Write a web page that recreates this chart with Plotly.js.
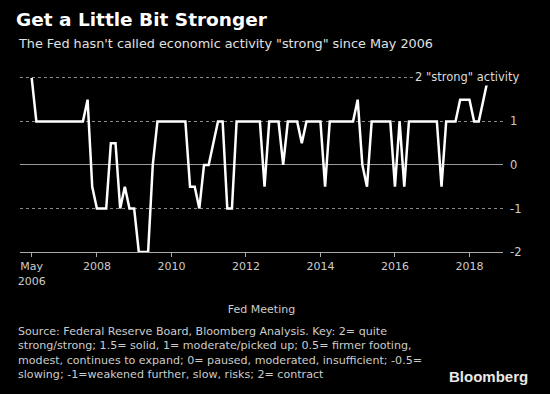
<!DOCTYPE html>
<html>
<head>
<meta charset="utf-8">
<script src="https://cdn.plot.ly/plotly-3.0.1.min.js"></script>
<style>
  html, body { margin: 0; padding: 0; background: #000; }
  #chart { width: 550px; height: 394px; }
</style>
</head>
<body>
<div id="chart"></div>
<script>
// FOMC meetings (scheduled), May 2006 - Aug 2018
const meetings = [
  '2006-05','2006-06','2006-08','2006-09','2006-10','2006-12',
  '2007-01','2007-03','2007-05','2007-06','2007-08','2007-09','2007-10','2007-12',
  '2008-01','2008-03','2008-04','2008-06','2008-08','2008-09','2008-10','2008-12',
  '2009-01','2009-03','2009-04','2009-06','2009-08','2009-09','2009-11','2009-12',
  '2010-01','2010-03','2010-04','2010-06','2010-08','2010-09','2010-11','2010-12',
  '2011-01','2011-03','2011-04','2011-06','2011-08','2011-09','2011-11','2011-12',
  '2012-01','2012-03','2012-04','2012-06','2012-08','2012-09','2012-10','2012-12',
  '2013-01','2013-03','2013-05','2013-06','2013-07','2013-09','2013-10','2013-12',
  '2014-01','2014-03','2014-04','2014-06','2014-07','2014-09','2014-10','2014-12',
  '2015-01','2015-03','2015-04','2015-06','2015-07','2015-09','2015-10','2015-12',
  '2016-01','2016-03','2016-04','2016-06','2016-07','2016-09','2016-11','2016-12',
  '2017-02','2017-03','2017-05','2017-06','2017-07','2017-09','2017-11','2017-12',
  '2018-01','2018-03','2018-05','2018-06','2018-08'
];

// Activity rating per meeting
const activity = [
  2, 1, 1, 1, 1, 1,
  1, 1, 1, 1, 1, 1, 1.5, -0.5,
  -1, -1, -1, 0.5, 0.5, -1, -0.5, -1,
  -1, -2, -2, -2, 0, 1, 1, 1,
  1, 1, 1, 1, -0.5, -0.5, -1, 0,
  0, 0.5, 1, 1, -1, -1, 1, 1,
  1, 1, 1, 1, -0.5, 1, 1, 1,
  0, 1, 1, 1, 0.5, 1, 1, 1,
  1, -0.5, 1, 1, 1, 1, 1, 1,
  1.5, 0, -0.5, 1, 1, 1, 1, 1,
  -0.5, 1, -0.5, 1, 1, 1, 1, 1,
  1, 1, -0.5, 1, 1, 1, 1.5, 1.5,
  1.5, 1, 1, 1.5, 2
];

const xTickMeetings = ['2006-05','2008-01','2010-01','2012-01','2014-01','2016-01','2018-01'];
const xTickLabels = ['May<br>2006','2008','2010','2012','2014','2016','2018'];
const yTickValues = [-2, -1, 0, 1, 2];
const yTickLabels = ['-2', '-1', '0', '1', ''];

const titleText = 'Get a Little Bit Stronger';
const subtitleText = 'The Fed hasn\'t called economic activity "strong" since May 2006';
const xTitleText = 'Fed Meeting';
const labelText = '2 "strong" activity';
const sourceText = 'Source: Federal Reserve Board, Bloomberg Analysis. Key: 2= quite<br>' +
  'strong/strong; 1.5= solid, 1= moderate/picked up; 0.5= firmer footing,<br>' +
  'modest, continues to expand; 0= paused, moderated, insufficient; -0.5=<br>' +
  'slowing; -1=weakened further, slow, risks; 2= contract';

const W = 550, H = 394;
const M = { l: 20, r: 47, t: 67, b: 142 };
const PW = W - M.l - M.r, PH = H - M.t - M.b;
const px = x => (x - M.l) / PW;
const py = y => (H - M.b - y) / PH;

const FONT = '"DejaVu Sans", Verdana, sans-serif';

const trace = {
  type: 'scatter',
  mode: 'lines',
  x: meetings,
  y: activity,
  line: { color: '#ffffff', width: 2.5 },
  hoverinfo: 'skip'
};

const layout = {
  width: W, height: H,
  margin: M,
  paper_bgcolor: '#000000',
  plot_bgcolor: '#000000',
  showlegend: false,
  font: { family: FONT, color: '#cccccc', size: 11 },
  title: {
    text: titleText,
    font: { family: FONT, size: 18.5, color: '#ffffff', weight: 'bold' },
    x: 16 / W, xanchor: 'left', xref: 'container',
    y: 1 - 20 / H, yanchor: 'middle', yref: 'container'
  },
  xaxis: {
    type: 'category',
    range: [-2.51, 101.2],
    tickmode: 'array',
    tickvals: xTickMeetings,
    ticktext: xTickLabels,
    ticks: 'outside', ticklen: 4, tickcolor: '#aaaaaa', tickwidth: 1,
    showgrid: false, zeroline: false,
    showline: true, linecolor: '#aaaaaa', linewidth: 1,
    tickfont: { family: FONT, size: 11, color: '#cccccc' },
    title: { text: xTitleText, font: { family: FONT, size: 11, color: '#cccccc' }, standoff: 18 },
    fixedrange: true
  },
  yaxis: {
    side: 'right',
    range: [-2, 2.25],
    tickmode: 'array',
    tickvals: yTickValues,
    ticktext: yTickLabels,
    ticks: '',
    showgrid: true, gridcolor: '#8a8a8a', griddash: 'dot', gridwidth: 1,
    zeroline: true, zerolinecolor: '#9a9a9a', zerolinewidth: 1,
    showline: false,
    tickfont: { family: FONT, size: 11.5, color: '#cccccc' },
    ticklabelstandoff: 6,
    fixedrange: true
  },
  annotations: [
    {
      text: subtitleText, xref: 'paper', yref: 'paper',
      x: px(16), y: py(43), xanchor: 'left', yanchor: 'middle', showarrow: false,
      font: { family: FONT, size: 12.8, color: '#e0e0e0' }
    },
    {
      text: labelText, xref: 'paper', yref: 'paper',
      x: px(521), y: py(77), xanchor: 'right', yanchor: 'middle', showarrow: false,
      bgcolor: '#000000', borderpad: 1,
      font: { family: FONT, size: 11.5, color: '#dddddd' }
    },
    {
      text: sourceText, xref: 'paper', yref: 'paper',
      x: px(16), y: py(323), xanchor: 'left', yanchor: 'top', showarrow: false, align: 'left',
      font: { family: FONT, size: 11.1, color: '#cccccc' }
    },
    {
      text: '<b>Bloomberg</b>', xref: 'paper', yref: 'paper',
      x: px(530), y: py(376), xanchor: 'right', yanchor: 'middle', showarrow: false,
      font: { family: '"Liberation Sans", Arial, sans-serif', size: 15, color: '#e8e8e8' }
    }
  ]
};

Plotly.newPlot('chart', [trace], layout, { staticPlot: true, displayModeBar: false });
</script>
</body>
</html>
